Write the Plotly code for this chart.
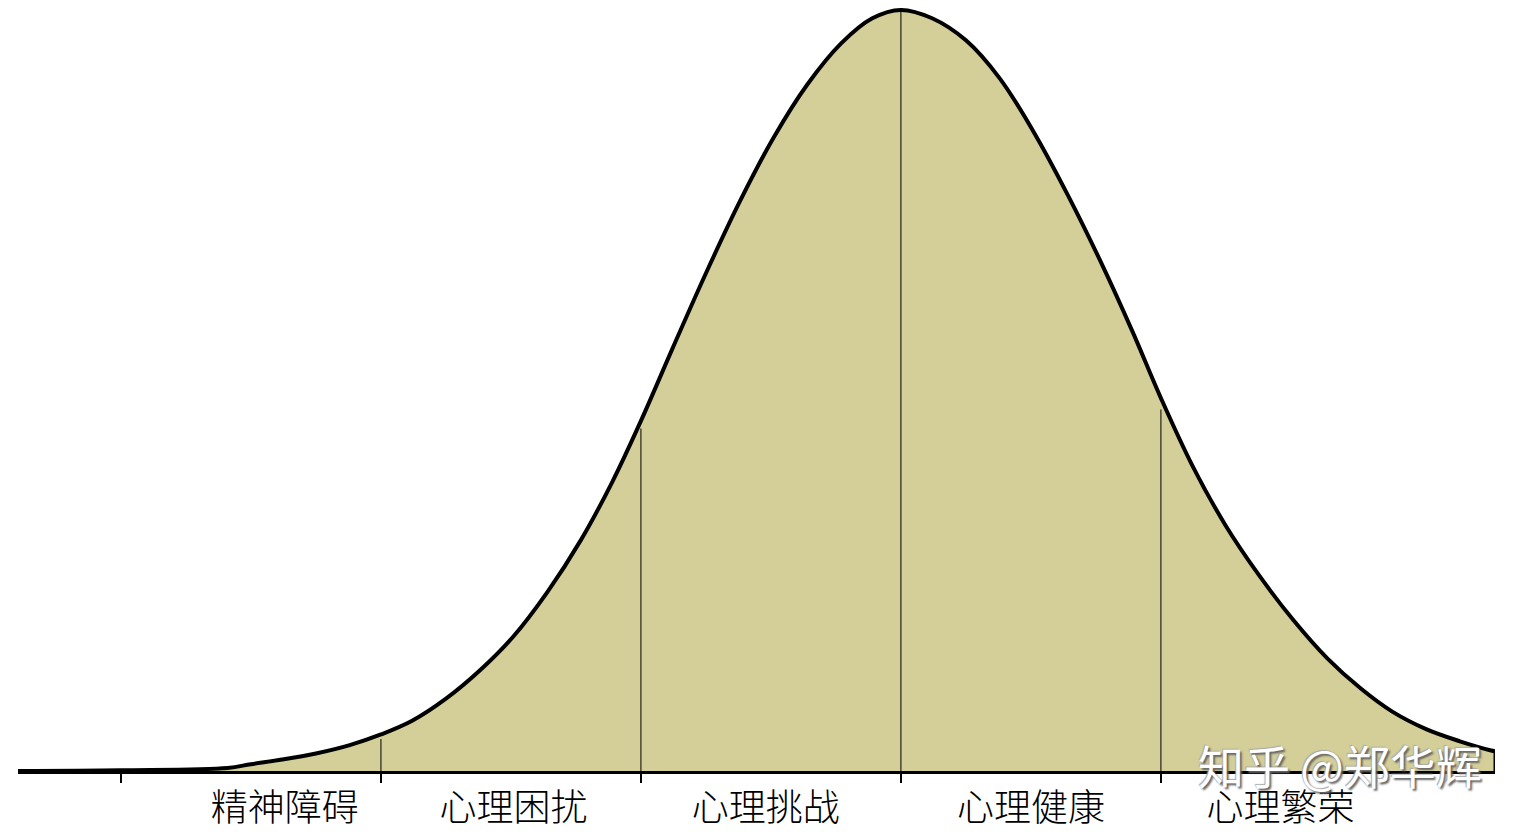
import plotly.graph_objects as go

# curve (x in band units, y as % of peak height)
curve_x = [-3.40, -3.00, -2.59, -2.50, -2.38, -2.25, -2.12, -2.00, -1.88, -1.75,
           -1.62, -1.49, -1.36, -1.23, -1.11, -1.00, -0.88, -0.75, -0.62, -0.49,
           -0.36, -0.23, -0.11, 0.00, 0.12, 0.25, 0.38, 0.51, 0.64, 0.77,
           0.89, 1.00, 1.12, 1.25, 1.38, 1.51, 1.64, 1.77, 1.89, 2.02,
           2.15, 2.27, 2.285, 2.285]
curve_y = [0.0, 0.1, 0.4, 0.9, 1.5, 2.3, 3.4, 4.8, 6.6, 9.5,
           13.2, 17.7, 23.5, 30.4, 38.0, 46.0, 55.4, 65.4, 74.8, 83.2,
           90.2, 95.6, 98.9, 100.0, 98.9, 96.0, 91.0, 84.0, 75.8, 66.8,
           57.8, 49.0, 40.2, 32.2, 25.6, 19.8, 14.8, 10.8, 7.8, 5.5,
           3.9, 2.7, 2.6, 0.0]

# band boundaries and how high each divider reaches
divider_x = [-2, -1, 0, 1]
divider_top = [4.2, 45.0, 100.0, 47.5]
tick_x = [-3, -2, -1, 0, 1]

bands = ['精神障碍', '心理困扰', '心理挑战', '心理健康', '心理繁荣']
band_pos = [-2.37, -1.49, -0.52, 0.50, 1.46]

fill_color = '#D4CF99'

fig = go.Figure()

fig.add_trace(go.Scatter(
    x=curve_x, y=curve_y, mode='lines',
    line=dict(width=0, shape='spline', smoothing=1.0),
    fill='tozeroy', fillcolor=fill_color, hoverinfo='skip', showlegend=False
))

for dx, top in zip(divider_x, divider_top):
    fig.add_trace(go.Scatter(
        x=[dx, dx], y=[0, top], mode='lines',
        line=dict(color='black', width=1), hoverinfo='skip', showlegend=False
    ))

fig.add_trace(go.Scatter(
    x=curve_x[:-1], y=curve_y[:-1], mode='lines',
    line=dict(color='black', width=4, shape='spline', smoothing=1.0),
    hoverinfo='skip', showlegend=False
))
# short closing edge on the right
fig.add_trace(go.Scatter(
    x=curve_x[-2:], y=curve_y[-2:], mode='lines',
    line=dict(color='black', width=3), hoverinfo='skip', showlegend=False
))

fig.add_annotation(
    x=1.69, y=0.9, xref='x', yref='y', text='知乎 @郑华辉', showarrow=False,
    font=dict(family='Noto Sans CJK SC', size=46, color='white',
              shadow='2px 2px 2px #666, -1px -1px 1px #aaa'),
    yanchor='middle'
)

fig.update_xaxes(
    range=[-3.396, 2.285], showgrid=False, zeroline=False,
    showline=True, linecolor='black', linewidth=3,
    tickmode='array', tickvals=band_pos, ticktext=bands, ticks='',
    tickfont=dict(family='Noto Sans CJK SC', size=37, color='black', weight=300),
    ticklabelstandoff=3,
    minor=dict(tickmode='array', tickvals=tick_x, ticks='outside',
               ticklen=9, tickwidth=2, tickcolor='black', showgrid=False)
)
fig.update_yaxes(range=[0, 101.3], visible=False)

fig.update_layout(
    width=1524, height=835,
    margin=dict(l=18, r=29, t=0, b=64, pad=0),
    plot_bgcolor='white', paper_bgcolor='white'
)

fig.write_html("out.html", config={'displayModeBar': False},
               post_script="document.body.style.margin='0';")
